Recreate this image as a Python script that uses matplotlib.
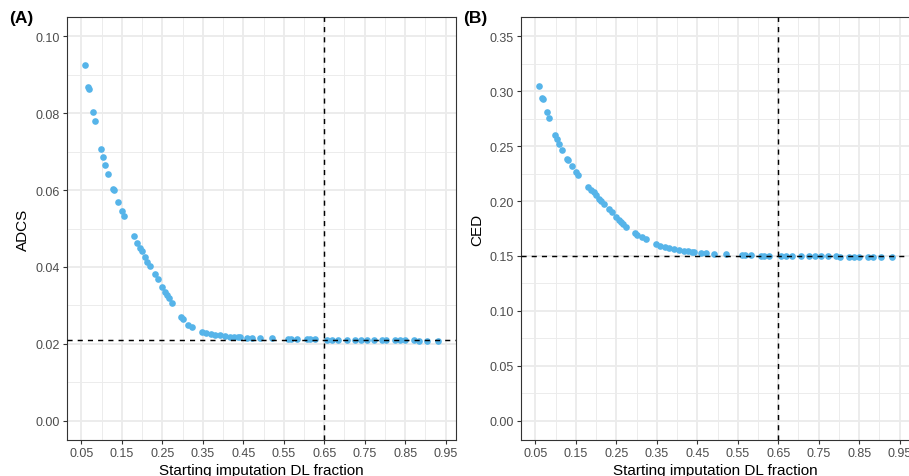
import matplotlib
matplotlib.use("Agg")
import matplotlib.pyplot as plt
import numpy as np
from matplotlib.ticker import FixedLocator

plt.rcParams['font.family'] = ['Liberation Sans', 'DejaVu Sans']

# starting imputation DL fraction (shared by both panels)
dl_fraction = [0.058, 0.066, 0.068, 0.078, 0.083, 0.098, 0.103, 0.109, 0.116, 0.129,
               0.131, 0.140, 0.150, 0.155, 0.179, 0.188, 0.195, 0.200, 0.207, 0.213,
               0.219, 0.231, 0.240, 0.250, 0.256, 0.262, 0.267, 0.273, 0.297, 0.302,
               0.314, 0.322, 0.347, 0.359, 0.369, 0.380, 0.392, 0.405, 0.416, 0.427,
               0.436, 0.443, 0.460, 0.472, 0.491, 0.522, 0.560, 0.567, 0.583, 0.608,
               0.616, 0.626, 0.658, 0.670, 0.683, 0.707, 0.725, 0.740, 0.755, 0.773,
               0.794, 0.802, 0.825, 0.837, 0.849, 0.872, 0.884, 0.905, 0.932]

adcs = [0.0924, 0.0867, 0.0863, 0.0803, 0.0779, 0.0707, 0.0687, 0.0666, 0.0642, 0.0602,
        0.0599, 0.0570, 0.0545, 0.0532, 0.0481, 0.0461, 0.0448, 0.0441, 0.0425, 0.0412,
        0.0403, 0.0382, 0.0368, 0.0348, 0.0335, 0.0326, 0.0319, 0.0307, 0.0269, 0.0264,
        0.0250, 0.0243, 0.0232, 0.0228, 0.0226, 0.0224, 0.0222, 0.0220, 0.0219, 0.0218,
        0.0218, 0.0218, 0.0216, 0.0216, 0.0216, 0.0214, 0.0213, 0.0213, 0.0212, 0.0212,
        0.0212, 0.0212, 0.0211, 0.0211, 0.0211, 0.0211, 0.0210, 0.0210, 0.0210, 0.0210,
        0.0209, 0.0209, 0.0209, 0.0209, 0.0209, 0.0209, 0.0208, 0.0208, 0.0208]

ced = [0.3050, 0.2935, 0.2930, 0.2808, 0.2756, 0.2605, 0.2566, 0.2520, 0.2469, 0.2380,
       0.2375, 0.2318, 0.2264, 0.2233, 0.2124, 0.2097, 0.2082, 0.2058, 0.2022, 0.1998,
       0.1970, 0.1931, 0.1901, 0.1856, 0.1830, 0.1808, 0.1790, 0.1768, 0.1712, 0.1695,
       0.1672, 0.1652, 0.1607, 0.1593, 0.1582, 0.1572, 0.1560, 0.1553, 0.1548, 0.1544,
       0.1539, 0.1535, 0.1530, 0.1527, 0.1522, 0.1514, 0.1508, 0.1507, 0.1505, 0.1503,
       0.1502, 0.1501, 0.1499, 0.1499, 0.1498, 0.1498, 0.1497, 0.1497, 0.1496, 0.1496,
       0.1496, 0.1495, 0.1495, 0.1495, 0.1495, 0.1494, 0.1494, 0.1494, 0.1493]

x_breaks = [0.05, 0.15, 0.25, 0.35, 0.45, 0.55, 0.65, 0.75, 0.85, 0.95]
chosen_fraction = 0.65
adcs_ref = 0.021
ced_ref = 0.15

W, H = 909, 477
fig = plt.figure(figsize=(W / 100, H / 100), dpi=100)

def px_axes(left, top, right, bottom):
    return fig.add_axes([left / W, 1 - bottom / H, (right - left) / W, (bottom - top) / H])

def style_panel(ax, ylim, ystep, ylabel, tag):
    # ggplot-like limits with 5% expansion
    xr = (min(dl_fraction), max(dl_fraction))
    pad = 0.05 * (xr[1] - xr[0])
    ax.set_xlim(xr[0] - pad, xr[1] + pad)
    ypad = 0.05 * (ylim[1] - ylim[0])
    ax.set_ylim(ylim[0] - ypad, ylim[1] + ypad)

    ax.xaxis.set_major_locator(FixedLocator(x_breaks))
    ax.xaxis.set_minor_locator(FixedLocator([0.1, 0.2, 0.3, 0.4, 0.5, 0.6, 0.7, 0.8, 0.9]))
    yb = np.arange(ylim[0], ylim[1] + ystep / 2, ystep)
    ax.yaxis.set_major_locator(FixedLocator(yb))
    ax.yaxis.set_minor_locator(FixedLocator(yb[:-1] + ystep / 2))
    ax.set_xticklabels([f"{v:.2f}" for v in x_breaks])
    ax.set_yticklabels([f"{v:.2f}" for v in yb])

    ax.set_facecolor('white')
    ax.grid(which='major', color='#EBEBEB', lw=1.3, zorder=0)
    ax.grid(which='minor', color='#EBEBEB', lw=0.65, zorder=0)
    ax.set_axisbelow(True)
    for s in ax.spines.values():
        s.set_color('#333333')
        s.set_linewidth(0.8)
    ax.tick_params(which='major', length=2.9, width=0.8, color='#333333',
                   labelsize=9, labelcolor='#4D4D4D', pad=2.2)
    ax.tick_params(which='minor', length=0)

    ax.set_xlabel('Starting imputation DL fraction', fontsize=11, color='black', labelpad=3)
    ax.set_ylabel(ylabel, fontsize=11, color='black', labelpad=4)
    ax.text(-0.15, 1.0, tag, transform=ax.transAxes, fontsize=12.5,
            fontweight='bold', ha='left', va='center')

dash = (0, (3.5, 3.5))

# Panel A
ax1 = px_axes(67, 18, 456, 441)
ax1.scatter(dl_fraction, adcs, s=23, color='#56B4E9', linewidths=0, zorder=3)
ax1.axhline(adcs_ref, color='black', lw=1.05, ls=dash, zorder=4)
ax1.axvline(chosen_fraction, color='black', lw=1.05, ls=dash, zorder=4)
style_panel(ax1, (0.0, 0.10), 0.02, 'ADCS', '(A)')

# Panel B
ax2 = px_axes(521, 18, 910, 441)
ax2.scatter(dl_fraction, ced, s=23, color='#56B4E9', linewidths=0, zorder=3)
ax2.axhline(ced_ref, color='black', lw=1.05, ls=dash, zorder=4)
ax2.axvline(chosen_fraction, color='black', lw=1.05, ls=dash, zorder=4)
style_panel(ax2, (0.0, 0.35), 0.05, 'CED', '(B)')

fig.savefig('out.png', dpi=100)
